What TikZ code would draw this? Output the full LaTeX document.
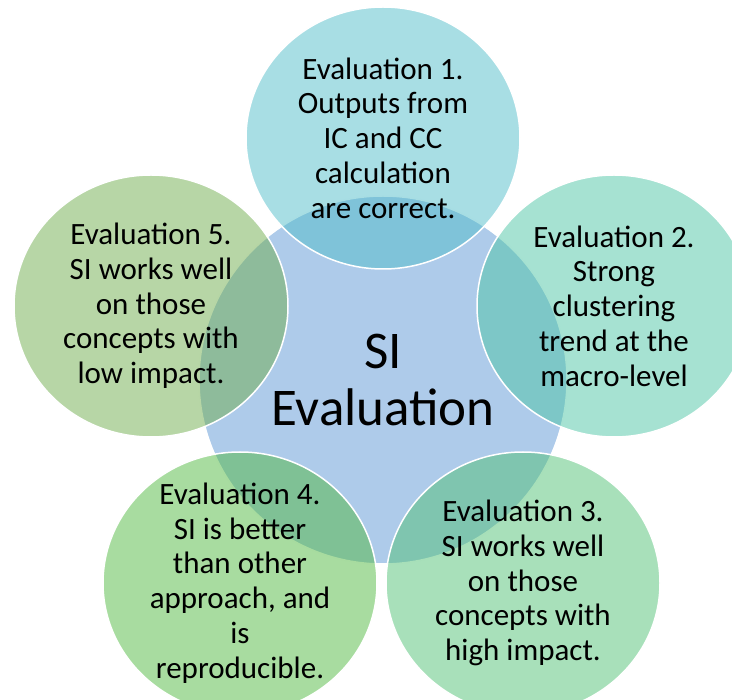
\documentclass[tikz,border=0pt]{standalone}
\usepackage{fontspec}
\setmainfont{Carlito}
\usetikzlibrary{shapes.geometric,positioning}

\definecolor{hubblue}{RGB}{174,203,234}
\definecolor{evalcyan}{RGB}{81,189,201}
\definecolor{evalteal}{RGB}{77,197,165}
\definecolor{evalmint}{RGB}{81,193,117}
\definecolor{evalgreen}{RGB}{81,185,65}
\definecolor{evalolive}{RGB}{111,173,77}

\begin{document}
\begin{tikzpicture}[
    x=1pt, y=-1pt,
    hub/.style={circle, draw=white, line width=1.5pt, fill=hubblue, minimum size=368pt, inner sep=0pt},
    spoke/.style={ellipse, draw=white, line width=1.5pt, fill opacity=0.5, minimum width=274pt, minimum height=262pt, inner sep=0pt},
    spoketext/.style={align=center, inner sep=0pt, font=\fontsize{31}{34.7}\selectfont},
    hubtext/.style={align=center, inner sep=0pt, font=\fontsize{53}{58}\selectfont}
]
    \useasboundingbox (0,0) rectangle (732,700);

    % Centre
    \node[hub] (si) at (383,380) {};

    % Evaluations
    \node[spoke, fill=evalcyan] (ev1) at (383,138) {};
    \node[spoke, fill=evalteal] (ev2) at (614,306) {};
    \node[spoke, fill=evalmint] (ev3) at (523,583) {};
    \node[spoke, fill=evalgreen] (ev4) at (240,583) {};
    \node[spoke, fill=evalolive] (ev5) at (151,306) {};

    % Texts
    \node[hubtext] (sitext) at (si) {SI\\Evaluation};
    \node[spoketext] (ev1text) at (ev1) {Evaluation 1.\\Outputs from\\IC and CC\\calculation\\are correct.};
    \node[spoketext] (ev2text) at (ev2) {Evaluation 2.\\Strong\\clustering\\trend at the\\macro-level};
    \node[spoketext] (ev3text) at (ev3) {Evaluation 3.\\SI works well\\on those\\concepts with\\high impact.};
    \node[spoketext] (ev4text) at (ev4) {Evaluation 4.\\SI is better\\than other\\approach, and\\is\\reproducible.};
    \node[spoketext] (ev5text) at (ev5) {Evaluation 5.\\SI works well\\on those\\concepts with\\low impact.};
\end{tikzpicture}
\end{document}
